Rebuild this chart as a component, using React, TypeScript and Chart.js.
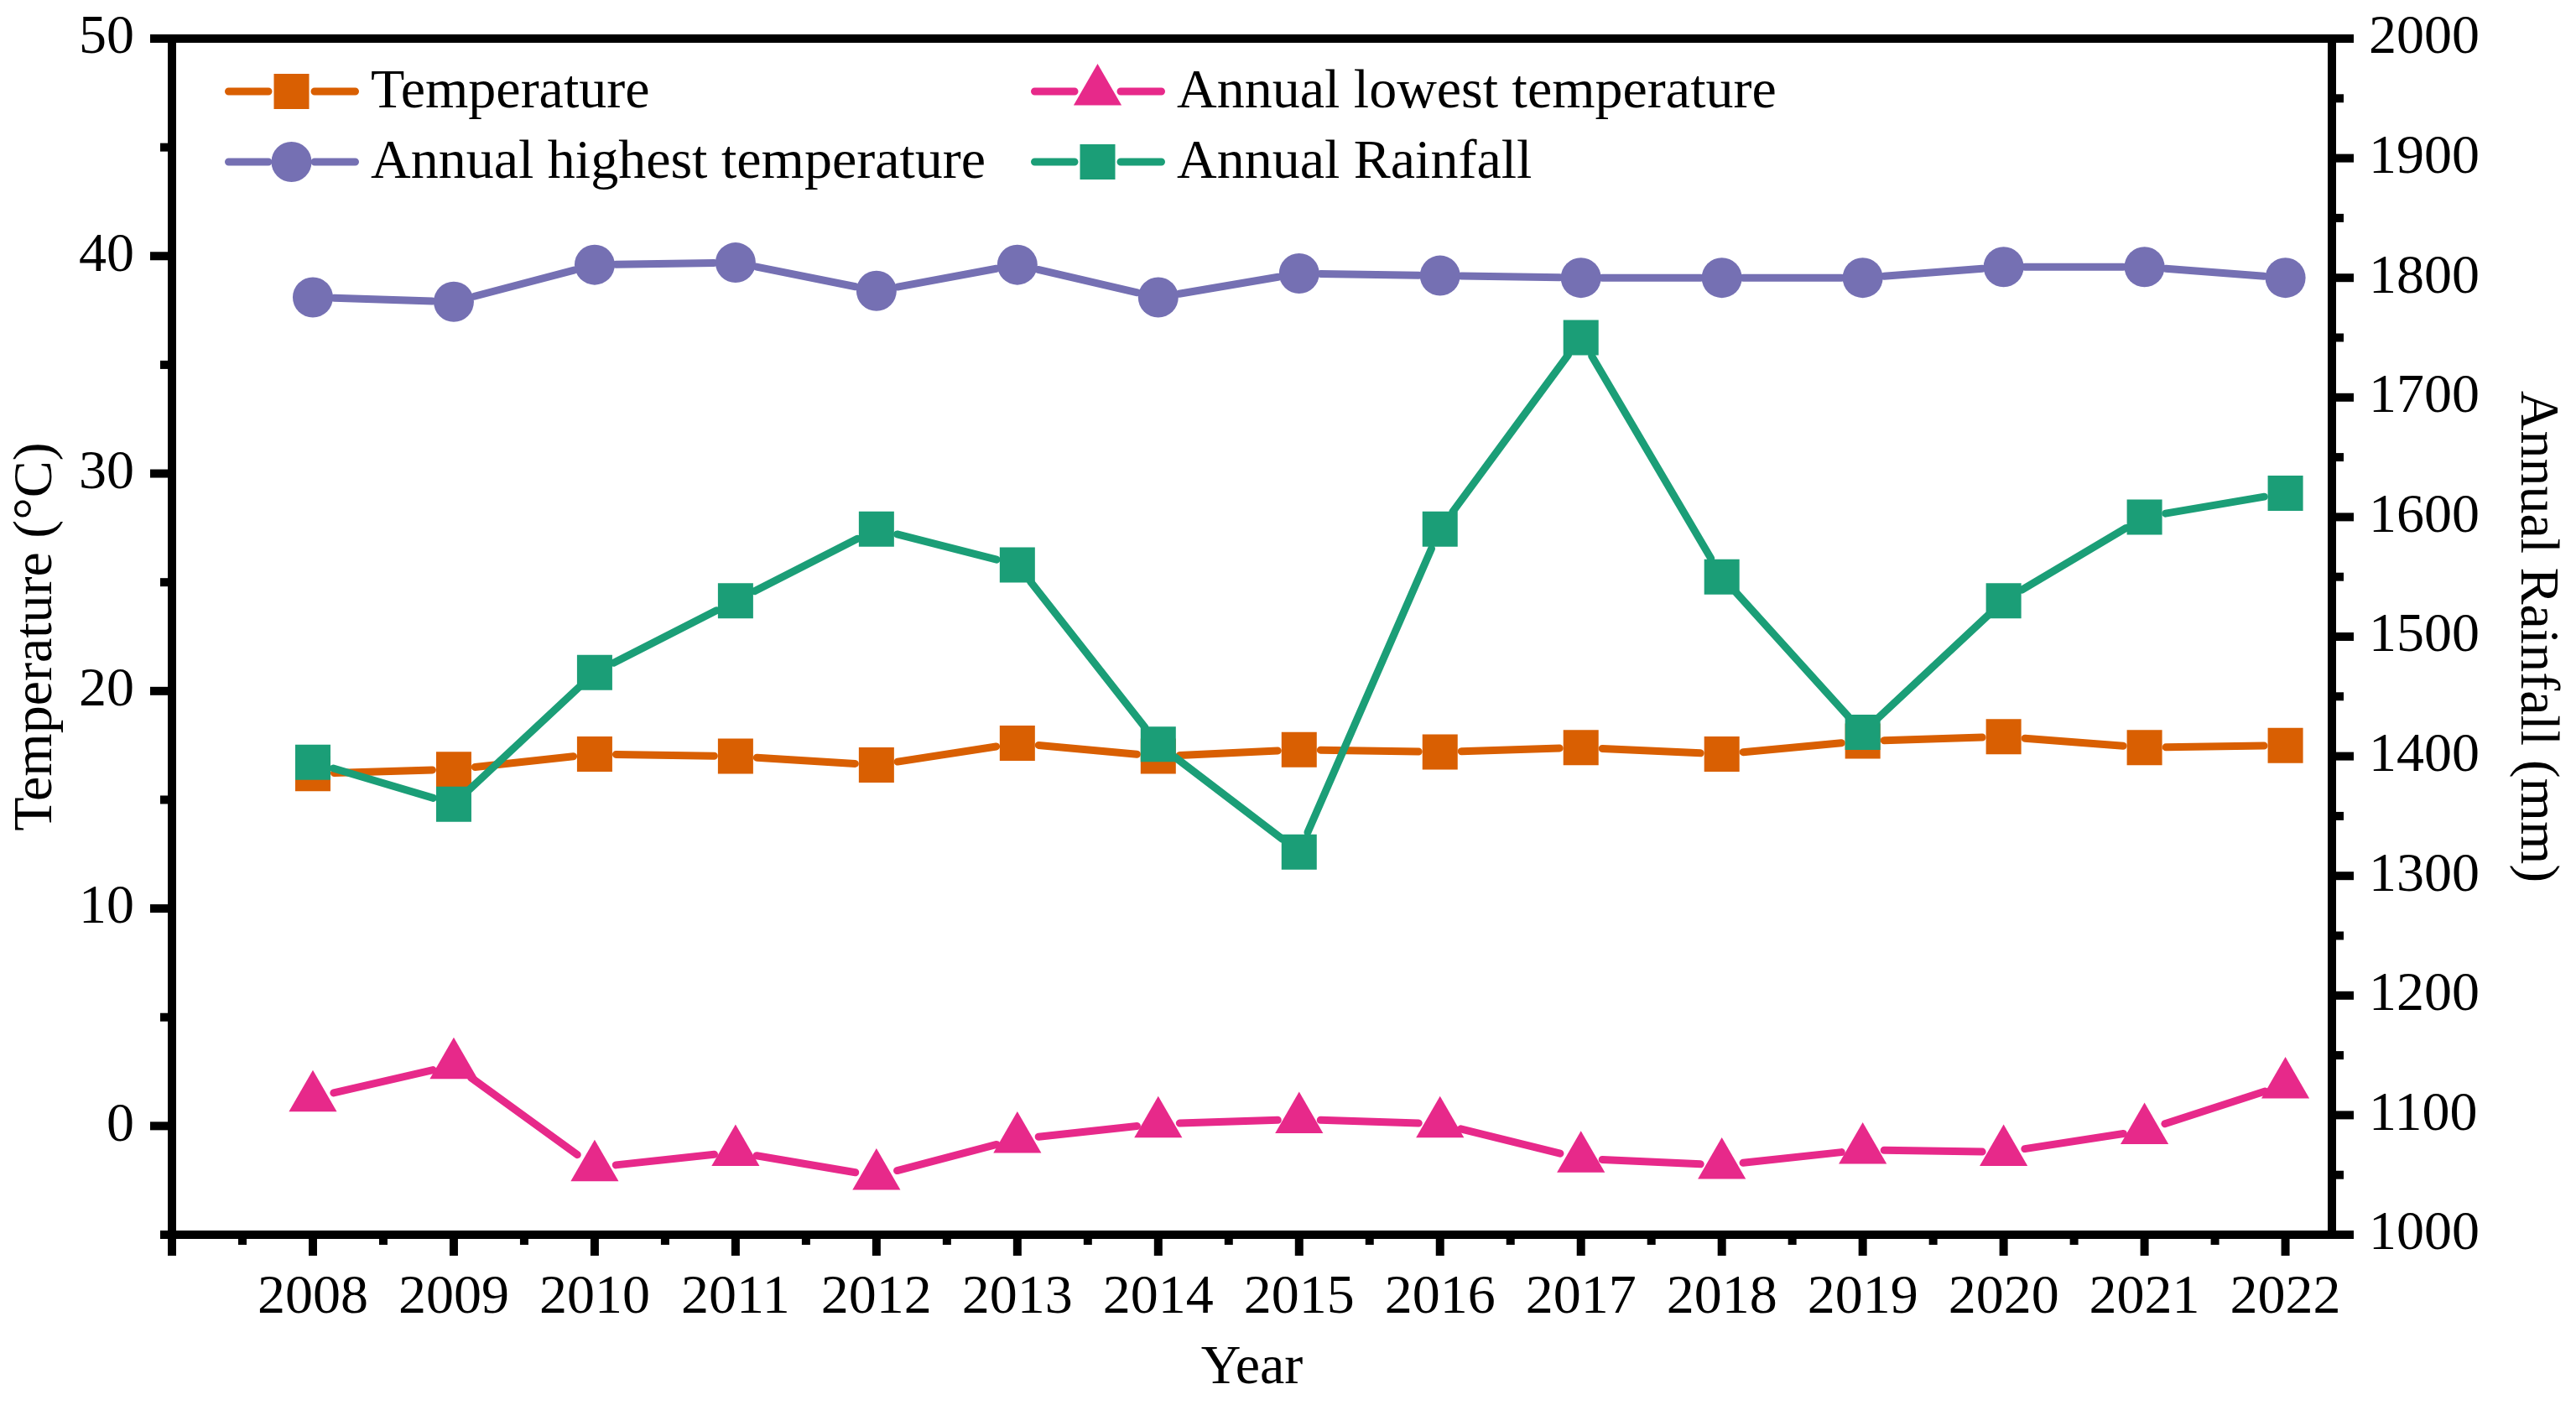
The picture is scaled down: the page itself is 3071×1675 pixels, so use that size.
import React, { useEffect, useRef } from 'react';
import { Chart, registerables } from 'chart.js';

Chart.register(...registerables);

// ---------- data ----------
const years = [2008, 2009, 2010, 2011, 2012, 2013, 2014, 2015, 2016, 2017, 2018, 2019, 2020, 2021, 2022];
const temperature = [16.2, 16.4, 17.1, 17.0, 16.6, 17.6, 17.0, 17.3, 17.2, 17.4, 17.1, 17.7, 17.9, 17.4, 17.5];
const highestTemp = [38.1, 37.9, 39.6, 39.7, 38.4, 39.6, 38.1, 39.2, 39.1, 39.0, 39.0, 39.0, 39.5, 39.5, 39.0];
const lowestTemp = [1.3, 2.8, -1.9, -1.2, -2.3, -0.6, 0.1, 0.3, 0.1, -1.5, -1.8, -1.1, -1.2, -0.2, 1.9];
const rainfall = [1395, 1360, 1470, 1530, 1590, 1560, 1410, 1320, 1590, 1750, 1550, 1420, 1530, 1600, 1620];

const seriesNames = ['Temperature', 'Annual lowest temperature', 'Annual highest temperature', 'Annual Rainfall'];
const xRange = [2007, 2022.33];
const tempRange = [-5, 50];
const rainRange = [1000, 2000];

// ---------- styles ----------
const W = 3071;
const H = 1675;
const FONT = 'Liberation Serif';
const FS = 66;
const LINE_W = 9;
const GAP = 25.5;
const AXIS_W = 10;
const TOP_PAD = 46;
const C_ORANGE = '#D95F02';
const C_PURPLE = '#7570B3';
const C_PINK = '#E7298A';
const C_GREEN = '#1B9E77';

const pairs = (vals: number[]) => years.map((yr, i) => ({ x: yr, y: vals[i] }));

const gapLinePlugin = {
  id: 'gapLines',
  beforeDatasetDraw(chart: any, args: any) {
    const meta = args.meta;
    const ds = chart.data.datasets[args.index];
    const pts = meta.data;
    const ctx = chart.ctx;
    ctx.save();
    ctx.strokeStyle = ds.borderColor;
    ctx.lineWidth = LINE_W;
    ctx.lineCap = 'round';
    for (let i = 0; i < pts.length - 1; i++) {
      const a = pts[i];
      const b = pts[i + 1];
      const dx = b.x - a.x;
      const dy = b.y - a.y;
      const L = Math.hypot(dx, dy);
      if (L <= 2 * GAP) continue;
      const ux = dx / L;
      const uy = dy / L;
      ctx.beginPath();
      ctx.moveTo(a.x + ux * GAP, a.y + uy * GAP);
      ctx.lineTo(b.x - ux * GAP, b.y - uy * GAP);
      ctx.stroke();
    }
    ctx.restore();
  },
};

function drawMarker(ctx: CanvasRenderingContext2D, style: string, x: number, y: number, color: string) {
  ctx.fillStyle = color;
  ctx.beginPath();
  if (style === 'rect') {
    ctx.rect(x - 21, y - 21, 42, 42);
  } else if (style === 'circle') {
    ctx.arc(x, y, 24, 0, Math.PI * 2);
  } else {
    const r = 33;
    ctx.moveTo(x, y - r);
    ctx.lineTo(x + r * Math.sin((2 * Math.PI) / 3), y - r * Math.cos((2 * Math.PI) / 3));
    ctx.lineTo(x + r * Math.sin((4 * Math.PI) / 3), y - r * Math.cos((4 * Math.PI) / 3));
    ctx.closePath();
  }
  ctx.fill();
}

const legendPlugin = {
  id: 'customLegend',
  afterDraw(chart: any) {
    const ctx = chart.ctx;
    const items = [
      { name: seriesNames[0], color: C_ORANGE, style: 'rect', x: 268, y: 109 },
      { name: seriesNames[1], color: C_PINK, style: 'triangle', x: 1229, y: 109 },
      { name: seriesNames[2], color: C_PURPLE, style: 'circle', x: 268, y: 193 },
      { name: seriesNames[3], color: C_GREEN, style: 'rect', x: 1229, y: 193 },
    ];
    ctx.save();
    for (const it of items) {
      ctx.strokeStyle = it.color;
      ctx.lineWidth = LINE_W;
      ctx.lineCap = 'round';
      ctx.beginPath();
      ctx.moveTo(it.x + 4.5, it.y);
      ctx.lineTo(it.x + 52, it.y);
      ctx.moveTo(it.x + 107, it.y);
      ctx.lineTo(it.x + 155.5, it.y);
      ctx.stroke();
      drawMarker(ctx, it.style, it.x + 79.5, it.y, it.color);
      ctx.fillStyle = '#000';
      ctx.font = `${FS}px '${FONT}'`;
      ctx.textAlign = 'left';
      ctx.textBaseline = 'middle';
      ctx.fillText(it.name, it.x + 174, it.y + 2);
    }
    ctx.restore();
  },
};

const frameTicksPlugin = {
  id: 'frameTicks',
  afterDraw(chart: any) {
    const { ctx, chartArea } = chart;
    const { left, right, top, bottom } = chartArea;
    const xs = chart.scales.x;
    const yl = chart.scales.yT;
    const yr = chart.scales.yR;
    ctx.save();
    ctx.strokeStyle = '#000';
    ctx.lineWidth = AXIS_W;
    ctx.lineCap = 'butt';
    const seg = (x1: number, y1: number, x2: number, y2: number) => {
      ctx.beginPath();
      ctx.moveTo(x1, y1);
      ctx.lineTo(x2, y2);
      ctx.stroke();
    };
    for (let i = 0; i <= 30; i++) {
      const v = 2007 + i * 0.5;
      const px = xs.getPixelForValue(v);
      seg(px, bottom, px, bottom + (i % 2 === 0 ? 25 : 12));
    }
    for (let i = 0; i <= 11; i++) {
      const v = tempRange[0] + i * 5;
      const py = yl.getPixelForValue(v);
      seg(left, py, left - (v % 10 === 0 ? 26 : 14), py);
    }
    for (let i = 0; i <= 20; i++) {
      const v = rainRange[0] + i * 50;
      const py = yr.getPixelForValue(v);
      seg(right, py, right + (v % 100 === 0 ? 26 : 14), py);
    }
    ctx.lineJoin = 'miter';
    ctx.strokeRect(left, top, right - left, bottom - top);
    ctx.restore();
  },
};

export default function App() {
  const canvasRef = useRef<HTMLCanvasElement | null>(null);

  useEffect(() => {
    document.body.style.margin = '0';
    const canvas = canvasRef.current;
    if (!canvas) return;
    const tickFont = { family: FONT, size: FS };
    const chart = new Chart(canvas, {
      type: 'line',
      data: {
        datasets: [
          {
            label: seriesNames[3],
            data: pairs(rainfall),
            yAxisID: 'yR',
            borderColor: C_GREEN,
            backgroundColor: C_GREEN,
            pointBackgroundColor: C_GREEN,
            pointStyle: 'rect',
            pointRadius: 29.7,
            pointBorderWidth: 0,
            showLine: false,
            order: 0,
          },
          {
            label: seriesNames[1],
            data: pairs(lowestTemp),
            yAxisID: 'yT',
            borderColor: C_PINK,
            backgroundColor: C_PINK,
            pointBackgroundColor: C_PINK,
            pointStyle: 'triangle',
            pointRadius: 33,
            pointBorderWidth: 0,
            showLine: false,
            order: 1,
          },
          {
            label: seriesNames[2],
            data: pairs(highestTemp),
            yAxisID: 'yT',
            borderColor: C_PURPLE,
            backgroundColor: C_PURPLE,
            pointBackgroundColor: C_PURPLE,
            pointStyle: 'circle',
            pointRadius: 24,
            pointBorderWidth: 0,
            showLine: false,
            order: 2,
          },
          {
            label: seriesNames[0],
            data: pairs(temperature),
            yAxisID: 'yT',
            borderColor: C_ORANGE,
            backgroundColor: C_ORANGE,
            pointBackgroundColor: C_ORANGE,
            pointStyle: 'rect',
            pointRadius: 29.7,
            pointBorderWidth: 0,
            showLine: false,
            order: 3,
          },
        ],
      },
      options: {
        animation: false,
        responsive: false,
        devicePixelRatio: 1,
        layout: { padding: { top: TOP_PAD, left: 0, right: 0, bottom: 0 } },
        plugins: { legend: { display: false }, tooltip: { enabled: false } },
        scales: {
          x: {
            type: 'linear',
            position: 'bottom',
            min: xRange[0],
            max: xRange[1],
            grid: { display: false, drawTicks: false },
            border: { display: false },
            ticks: {
              stepSize: 1,
              maxTicksLimit: 100,
              includeBounds: false,
              autoSkip: false,
              maxRotation: 0,
              minRotation: 0,
              padding: 36,
              color: '#000',
              font: tickFont,
              callback: (v: any) => (v >= years[0] && Number.isInteger(v) ? String(v) : ''),
            },
            title: { display: true, text: 'Year', color: '#000', font: tickFont, padding: { top: 0, bottom: 4 } },
            afterFit: (s: any) => {
              s.height = 203;
              s.paddingLeft = 0;
              s.paddingRight = 0;
            },
          },
          yT: {
            type: 'linear',
            position: 'left',
            min: tempRange[0],
            max: tempRange[1],
            grid: { display: false, drawTicks: false },
            border: { display: false },
            ticks: {
              stepSize: 10,
              includeBounds: false,
              padding: 45,
              color: '#000',
              font: tickFont,
              callback: (v: any) => String(v),
            },
            title: { display: true, text: 'Temperature (°C)', color: '#000', font: tickFont, padding: { top: 4, bottom: 0 } },
            afterFit: (s: any) => {
              s.width = 205;
              s.paddingTop = 0;
              s.paddingBottom = 0;
            },
          },
          yR: {
            type: 'linear',
            position: 'right',
            min: rainRange[0],
            max: rainRange[1],
            grid: { display: false, drawTicks: false },
            border: { display: false },
            ticks: {
              stepSize: 100,
              includeBounds: false,
              padding: 44,
              color: '#000',
              font: tickFont,
              callback: (v: any) => String(v),
            },
            title: { display: true, text: 'Annual Rainfall (mm)', color: '#000', font: tickFont, padding: { top: 8, bottom: 0 } },
            afterFit: (s: any) => {
              s.width = 291;
              s.paddingTop = 0;
              s.paddingBottom = 0;
            },
          },
        },
      } as any,
      plugins: [gapLinePlugin, frameTicksPlugin, legendPlugin],
    });
    return () => chart.destroy();
  }, []);

  return (
    <div style={{ position: 'fixed', left: 0, top: 0, width: W, height: H, background: '#fff' }}>
      <canvas ref={canvasRef} width={W} height={H} style={{ width: W, height: H, display: 'block' }} />
    </div>
  );
}
